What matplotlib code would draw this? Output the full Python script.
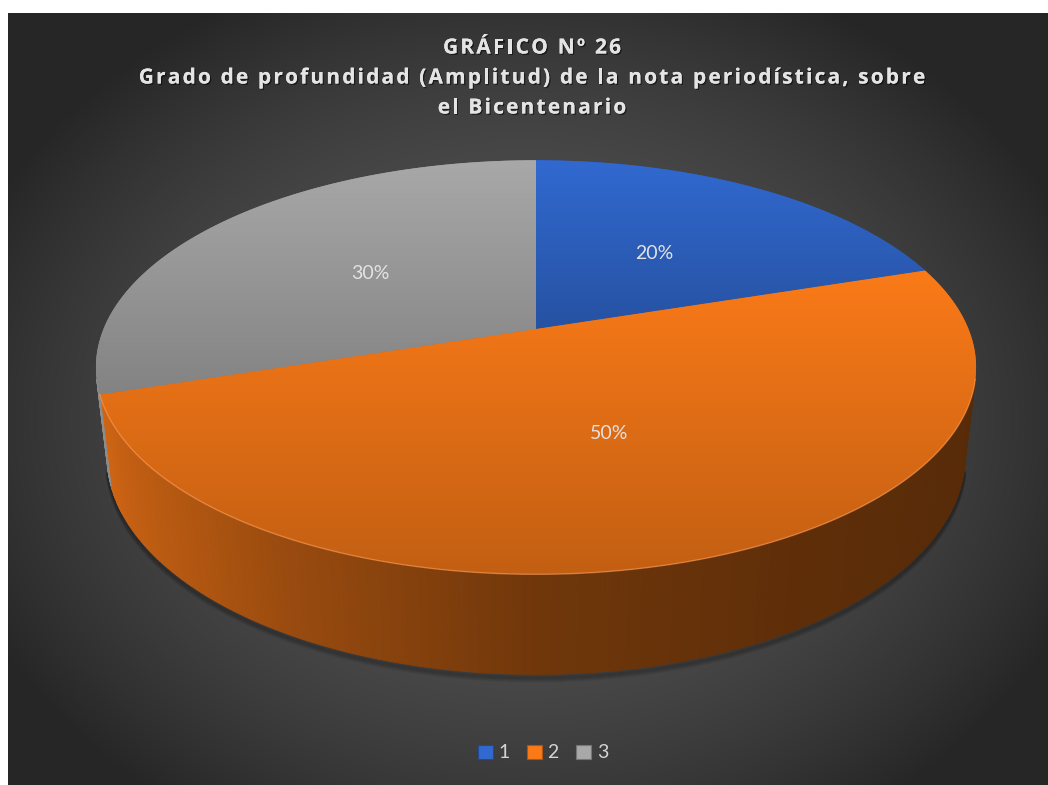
import numpy as np
import matplotlib.pyplot as plt
from matplotlib.patches import Polygon, Patch
from matplotlib.collections import PolyCollection
from matplotlib.colors import to_rgb
from matplotlib.font_manager import FontProperties
import matplotlib.patheffects as pe

title_lines = ['GRÁFICO Nº 26',
               'Grado de profundidad (Amplitud) de la nota periodística, sobre',
               'el Bicentenario']
categories = ['1', '2', '3']
shares = [20, 50, 30]
colors = ['#3169d0', '#fa7a18', '#a8a8a8']

W, H = 1048, 785

# simple perspective camera for the tilted pie
TILT = np.radians(30)
DIST = 4.8
FOCAL = 2025
THICK = 0.235
CX, CY = 536, 329          # screen spot where the slices meet
S, C = np.sin(TILT), np.cos(TILT)


def project(x, y, z):
    up = y * C + z * S
    depth = -y * S + z * C
    k = FOCAL / (DIST + depth)
    return x * k, up * k


APEX_UP = project(0.0, THICK, 0.0)[1]


def screen(x, y, z):
    sx, sy = project(np.asarray(x, float), np.asarray(y, float), np.asarray(z, float))
    return CX + sx, CY - (sy - APEX_UP)


def rim(a, y, r=1.0):
    a = np.radians(np.asarray(a, float))
    return screen(r * np.sin(a), y * np.ones_like(a), r * np.cos(a))


fig = plt.figure(figsize=(W / 100, H / 100), dpi=100, facecolor='white')
ax = fig.add_axes([0, 0, 1, 1])
ax.set_xlim(0, W)
ax.set_ylim(H, 0)

# dark radial background
gx, gy = np.meshgrid(np.linspace(8, W, 400), np.linspace(13, H, 300))
r2 = ((gx - 524) / 600) ** 2 + ((gy - 420) / 480) ** 2
shade = (0x55 - (0x55 - 0x26) * np.clip(r2, 0, 1)) / 255
ax.imshow(np.dstack([shade] * 3), extent=(8, W, H, 13), interpolation='bilinear', zorder=0)

edges = np.concatenate([[0], np.cumsum(shares)]) / sum(shares) * 360
vis_lim = np.degrees(np.arccos(-1 / (DIST * C)))   # side faces turned to the camera

# soft shadow under the front edge
aa = np.linspace(vis_lim, 360 - vis_lim, 300)
bx, by = rim(aa, 0)
for k in range(1, 7):
    ax.plot(bx, by + k, color='black', lw=3, alpha=0.06, zorder=1, solid_capstyle='round')

# outer side of the slices, shaded by facing direction
light_nx = [-1, -0.5, 0, 0.5, 1]
light_k = [0.85, 0.62, 0.45, 0.38, 0.35]
for i, (a0, a1) in enumerate(zip(edges[:-1], edges[1:])):
    lo, hi = max(a0, vis_lim), min(a1, 360 - vis_lim)
    if hi <= lo:
        continue
    n = max(2, int((hi - lo) * 2))
    aa = np.linspace(lo, hi, n + 1)
    tx, ty = rim(aa, THICK)
    bx, by = rim(aa, 0)
    quads, fc = [], []
    for j in range(n):
        quads.append([(tx[j], ty[j]), (tx[j + 1], ty[j + 1]),
                      (bx[j + 1], by[j + 1]), (bx[j], by[j])])
        nx = np.sin(np.radians((aa[j] + aa[j + 1]) / 2))
        fc.append(np.clip(np.array(to_rgb(colors[i])) * np.interp(nx, light_nx, light_k), 0, 1))
    ax.add_collection(PolyCollection(quads, facecolors=fc, edgecolors=fc,
                                     linewidths=0.6, zorder=2))

# top faces with a gentle vertical gradient
for i, (a0, a1) in enumerate(zip(edges[:-1], edges[1:])):
    aa = np.linspace(a0, a1, int(a1 - a0) * 2 + 2)
    ex, ey = rim(aa, THICK)
    px = np.concatenate([[CX], ex])
    py = np.concatenate([[CY], ey])
    base = np.array(to_rgb(colors[i]))
    poly = Polygon(np.column_stack([px, py]), closed=True,
                   facecolor=base * 0.89, edgecolor='none', zorder=3)
    ax.add_patch(poly)
    ramp = np.linspace(1.0, 0.78, 64)[:, None, None] * base[None, None, :]
    im = ax.imshow(np.clip(ramp, 0, 1), extent=(px.min(), px.max(), py.max(), py.min()),
                   interpolation='bilinear', zorder=3.1, aspect='auto')
    im.set_clip_path(poly)

# light rim along the front edge of the top face
aa = np.linspace(vis_lim, min(edges[2], 360 - vis_lim), 300)
hx, hy = rim(aa, THICK)
ax.plot(hx, hy, color='#ffa060', lw=1.0, alpha=0.55, zorder=4)

# data labels
for i, (a0, a1) in enumerate(zip(edges[:-1], edges[1:])):
    lx, ly = rim((a0 + a1) / 2, THICK, r=0.5)
    ax.text(float(lx), float(ly), f'{shares[i]}%', color='#e2e2e2', fontsize=14,
            family='Lato', ha='center', va='center', zorder=5)

# title, drawn letter by letter to get the wide tracking
renderer = fig.canvas.get_renderer()
title_font = FontProperties(family='Open Sans', weight='bold', size=15)
TRACK = 2.2   # extra pixels between letters


def text_width(s):
    t = ax.text(0, 0, s, fontproperties=title_font)
    w = t.get_window_extent(renderer).width
    t.remove()
    return w


bar = text_width('||')
shadow = [pe.withSimplePatchShadow(offset=(1, -1), shadow_rgbFace='black', alpha=0.5), pe.Normal()]
for line, y in zip(title_lines, [48, 78, 108]):
    adv = [text_width('|' + ch + '|') - bar for ch in line]
    total = sum(adv) + TRACK * (len(line) - 1)
    x = 532 - total / 2
    for ch, w in zip(line, adv):
        if ch != ' ':
            ax.text(x, y, ch, color='#e4e4e4', fontproperties=title_font,
                    ha='left', va='center', zorder=5, path_effects=shadow)
        x += w + TRACK

# legend
handles = [Patch(facecolor=c, edgecolor=np.array(to_rgb(c)) * 0.7, linewidth=0.8) for c in colors]
ax.legend(handles, categories, loc='center', bbox_to_anchor=(543 / W, 1 - 753 / H),
          bbox_transform=fig.transFigure, ncol=3, frameon=False,
          labelcolor='#d4d4d4', handlelength=0.75, handleheight=0.75,
          handletextpad=0.3, columnspacing=0.9, prop={'family': 'Lato', 'size': 14})

ax.set_xlim(0, W)
ax.set_ylim(H, 0)
ax.set_aspect('auto')
ax.axis('off')

fig.savefig('out.png', dpi=100, facecolor='white')
